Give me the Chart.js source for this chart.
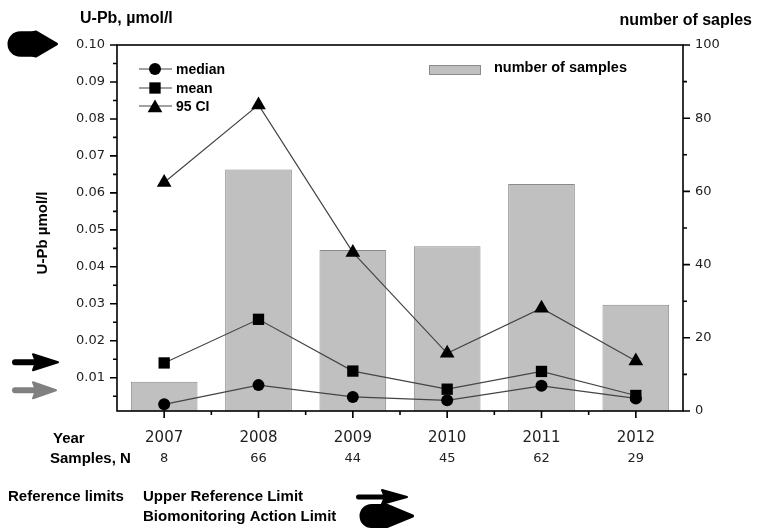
<!DOCTYPE html>
<html>
<head>
<meta charset="utf-8">
<script src="https://cdn.jsdelivr.net/npm/chart.js@4.4.0/dist/chart.umd.min.js"></script>
<style>
  html, body { margin: 0; padding: 0; background: #fff; }
  canvas { display: block; }
</style>
</head>
<body>
<canvas id="chart" width="757" height="528"></canvas>
<script>
// Urine lead (U-Pb) by survey year
const years = ['2007', '2008', '2009', '2010', '2011', '2012'];
const sampleCounts = [8, 66, 44, 45, 62, 29];
const medianValues = [0.0028, 0.0080, 0.0048, 0.0039, 0.0078, 0.0044];
const meanValues = [0.0140, 0.0258, 0.0118, 0.0069, 0.0117, 0.0052];
const ci95Values = [0.0628, 0.0838, 0.0439, 0.0166, 0.0288, 0.0145];

// Axis ticks
const leftTicks = [0.01, 0.02, 0.03, 0.04, 0.05, 0.06, 0.07, 0.08, 0.09, 0.10];
const leftTickLabels = ['0.01', '0.02', '0.03', '0.04', '0.05', '0.06', '0.07', '0.08', '0.09', '0.10'];
const rightTicks = [0, 20, 40, 60, 80, 100];
const rightTickLabels = ['0', '20', '40', '60', '80', '100'];

// Limit markers on the U-Pb axis: action limit, upper reference limit, lower marker
const limitArrowValues = [0.10, 0.0142, 0.0066];

const BOLD = 'Liberation Sans, Arial, sans-serif';
const REG = 'DejaVu Sans, Verdana, sans-serif';

function drawMarker(ctx, style, x, y, r) {
  ctx.beginPath();
  if (style === 'circle') {
    ctx.arc(x, y, r, 0, Math.PI * 2);
  } else if (style === 'rect') {
    const s = r * Math.SQRT1_2;
    ctx.rect(x - s, y - s, 2 * s, 2 * s);
  } else {
    for (let k = 0; k < 3; k++) {
      const a = k * 2 * Math.PI / 3;
      const px = x + Math.sin(a) * r, py = y - Math.cos(a) * r;
      if (k === 0) ctx.moveTo(px, py); else ctx.lineTo(px, py);
    }
    ctx.closePath();
  }
  ctx.fill();
}

// slim arrow: rounded shaft + triangular head, tip at (tipX, cy)
function slimArrow(ctx, x0, tipX, cy, color, shaft, head, headLen) {
  ctx.fillStyle = color;
  ctx.strokeStyle = color;
  ctx.lineCap = 'round';
  ctx.lineWidth = shaft;
  ctx.beginPath();
  ctx.moveTo(x0 + shaft / 2, cy);
  ctx.lineTo(tipX - headLen + 2, cy);
  ctx.stroke();
  ctx.lineJoin = 'round';
  ctx.lineWidth = 2;
  ctx.beginPath();
  ctx.moveTo(tipX, cy);
  ctx.lineTo(tipX - headLen, cy - head / 2);
  ctx.lineTo(tipX - headLen + 3, cy);
  ctx.lineTo(tipX - headLen, cy + head / 2);
  ctx.closePath();
  ctx.fill();
  ctx.stroke();
}

// heavy arrow: bulky rounded tail and a broad head, tip at (tipX, cy)
function fatArrow(ctx, x0, tipX, cy, h, headLen) {
  const tail = h * 0.84;
  const hx = tipX - headLen;
  ctx.fillStyle = '#000';
  ctx.strokeStyle = '#000';
  ctx.lineJoin = 'round';
  ctx.lineWidth = 3;
  ctx.beginPath();
  ctx.moveTo(tipX - 1.5, cy);
  ctx.lineTo(hx, cy - h / 2 + 1.5);
  ctx.quadraticCurveTo(hx - 2, cy - tail / 2, hx - 5, cy - tail / 2);
  ctx.lineTo(x0 + tail / 2, cy - tail / 2);
  ctx.arc(x0 + tail / 2, cy, tail / 2, -Math.PI / 2, Math.PI / 2, true);
  ctx.lineTo(hx - 5, cy + tail / 2);
  ctx.quadraticCurveTo(hx - 2, cy + tail / 2, hx, cy + h / 2 - 1.5);
  ctx.closePath();
  ctx.fill();
  ctx.stroke();
}

const decor = {
  id: 'decor',
  afterDraw(chart) {
    const { ctx, chartArea: a, scales } = chart;
    const xs = scales.x, ys = scales.y, ys2 = scales.y2;
    ctx.save();

    // frame
    ctx.strokeStyle = '#000';
    ctx.lineWidth = 1.6;
    ctx.strokeRect(a.left, a.top, a.right - a.left, a.bottom - a.top);

    // tick marks
    ctx.lineWidth = 1.6;
    ctx.beginPath();
    leftTicks.forEach(v => {
      const p = ys.getPixelForValue(v);
      ctx.moveTo(a.left - 7, p); ctx.lineTo(a.left, p);
      const m = ys.getPixelForValue(v - 0.005);
      ctx.moveTo(a.left - 4, m); ctx.lineTo(a.left, m);
    });
    rightTicks.forEach(v => {
      const p = ys2.getPixelForValue(v);
      ctx.moveTo(a.right, p); ctx.lineTo(a.right + 7, p);
      if (v > 0) {
        const m = ys2.getPixelForValue(v - 10);
        ctx.moveTo(a.right, m); ctx.lineTo(a.right + 4, m);
      }
    });
    years.forEach((yr, i) => {
      const p = xs.getPixelForValue(i);
      ctx.moveTo(p, a.bottom); ctx.lineTo(p, a.bottom + 7);
      if (i < years.length - 1) {
        const m = (p + xs.getPixelForValue(i + 1)) / 2;
        ctx.moveTo(m, a.bottom); ctx.lineTo(m, a.bottom + 4);
      }
    });
    ctx.stroke();

    // sample counts under the years
    ctx.fillStyle = '#222';
    ctx.font = '13px ' + REG;
    ctx.textAlign = 'center';
    ctx.textBaseline = 'alphabetic';
    sampleCounts.forEach((n, i) => {
      ctx.fillText(String(n), xs.getPixelForValue(i), 462);
    });

    // bold labels
    ctx.fillStyle = '#000';
    ctx.textAlign = 'left';
    ctx.font = 'bold 16px ' + BOLD;
    ctx.fillText('U-Pb, µmol/l', 80, 23);
    ctx.textAlign = 'right';
    ctx.fillText('number of saples', 752, 25);

    ctx.textAlign = 'left';
    ctx.font = 'bold 15px ' + BOLD;
    ctx.fillText('Year', 53, 443);
    ctx.fillText('Samples, N', 50, 463);
    ctx.fillText('Reference limits', 8, 501);
    ctx.fillText('Upper Reference Limit', 143, 501);
    ctx.fillText('Biomonitoring Action Limit', 143, 521);

    // rotated axis title
    ctx.save();
    ctx.translate(47, 233);
    ctx.rotate(-Math.PI / 2);
    ctx.textAlign = 'center';
    ctx.font = 'bold 15px ' + BOLD;
    ctx.fillText('U-Pb µmol/l', 0, 0);
    ctx.restore();

    // series legend
    const rows = [
      { label: 'median', style: 'circle', r: 6, base: 74 },
      { label: 'mean', style: 'rect', r: 8, base: 93 },
      { label: '95 CI', style: 'triangle', r: 8.5, base: 111 }
    ];
    ctx.font = 'bold 14px ' + BOLD;
    rows.forEach(row => {
      const cy = row.base - 5;
      ctx.strokeStyle = '#444';
      ctx.lineWidth = 1.2;
      ctx.beginPath();
      ctx.moveTo(139, cy); ctx.lineTo(172, cy);
      ctx.stroke();
      ctx.fillStyle = '#000';
      drawMarker(ctx, row.style, 155, row.style === 'triangle' ? cy + 2 : cy, row.r);
      ctx.fillText(row.label, 176, row.base);
    });

    // bar legend
    ctx.fillStyle = '#c0c0c0';
    ctx.fillRect(429.5, 65.5, 51, 9);
    ctx.strokeStyle = '#8a8a8a';
    ctx.lineWidth = 1;
    ctx.strokeRect(429.5, 65.5, 51, 9);
    ctx.fillStyle = '#000';
    ctx.font = 'bold 14.5px ' + BOLD;
    ctx.fillText('number of samples', 494, 72);

    // limit arrows on the left axis
    fatArrow(ctx, 9, 58, ys.getPixelForValue(limitArrowValues[0]) - 1, 27, 22);
    slimArrow(ctx, 12, 58, ys.getPixelForValue(limitArrowValues[1]), '#000', 6, 16, 25);
    slimArrow(ctx, 12, 56, ys.getPixelForValue(limitArrowValues[2]), '#808080', 6, 16, 23);

    // arrows in the reference-limit key
    slimArrow(ctx, 356, 407, 497, '#000', 5, 14, 25);
    fatArrow(ctx, 361, 414, 516, 25, 28);

    ctx.restore();
  }
};

new Chart(document.getElementById('chart'), {
  data: {
    labels: years,
    datasets: [
      {
        type: 'line', label: 'median', data: medianValues, yAxisID: 'y', order: 1,
        borderColor: '#444', borderWidth: 1.2, pointStyle: 'circle', pointRadius: 6,
        pointBackgroundColor: '#000', pointBorderWidth: 0, tension: 0
      },
      {
        type: 'line', label: 'mean', data: meanValues, yAxisID: 'y', order: 1,
        borderColor: '#444', borderWidth: 1.2, pointStyle: 'rect', pointRadius: 8,
        pointBackgroundColor: '#000', pointBorderWidth: 0, tension: 0
      },
      {
        type: 'line', label: '95 CI', data: ci95Values, yAxisID: 'y', order: 1,
        borderColor: '#444', borderWidth: 1.2, pointStyle: 'triangle', pointRadius: 8.5,
        pointBackgroundColor: '#000', pointBorderWidth: 0, tension: 0
      },
      {
        type: 'bar', label: 'number of samples', data: sampleCounts, yAxisID: 'y2', order: 2,
        backgroundColor: '#c0c0c0', borderColor: '#8a8a8a', borderWidth: 1,
        barPercentage: 0.707, categoryPercentage: 1
      }
    ]
  },
  options: {
    responsive: false,
    animation: false,
    layout: { padding: { top: 45, left: 0, right: 0, bottom: 0 } },
    plugins: { legend: { display: false }, tooltip: { enabled: false } },
    scales: {
      x: {
        type: 'category', offset: true,
        grid: { display: false, drawTicks: false }, border: { display: false },
        ticks: { color: '#222', font: { family: REG, size: 15 }, padding: 18, maxRotation: 0, autoSkip: false },
        afterFit(s) { s.height = 117; }
      },
      y: {
        position: 'left', min: 0.001, max: 0.10,
        grid: { display: false, drawTicks: false }, border: { display: false },
        ticks: { color: '#222', font: { family: REG, size: 13 }, padding: 12, autoSkip: false,
                 callback: (v, i) => leftTickLabels[i] },
        afterBuildTicks(s) { s.ticks = leftTicks.map(v => ({ value: v })); },
        afterFit(s) { s.width = 117; }
      },
      y2: {
        position: 'right', min: 0, max: 100,
        grid: { display: false, drawTicks: false }, border: { display: false },
        ticks: { color: '#222', font: { family: REG, size: 13 }, padding: 12, autoSkip: false,
                 callback: (v, i) => rightTickLabels[i] },
        afterBuildTicks(s) { s.ticks = rightTicks.map(v => ({ value: v })); },
        afterFit(s) { s.width = 74; }
      }
    }
  },
  plugins: [decor]
});
</script>
</body>
</html>
